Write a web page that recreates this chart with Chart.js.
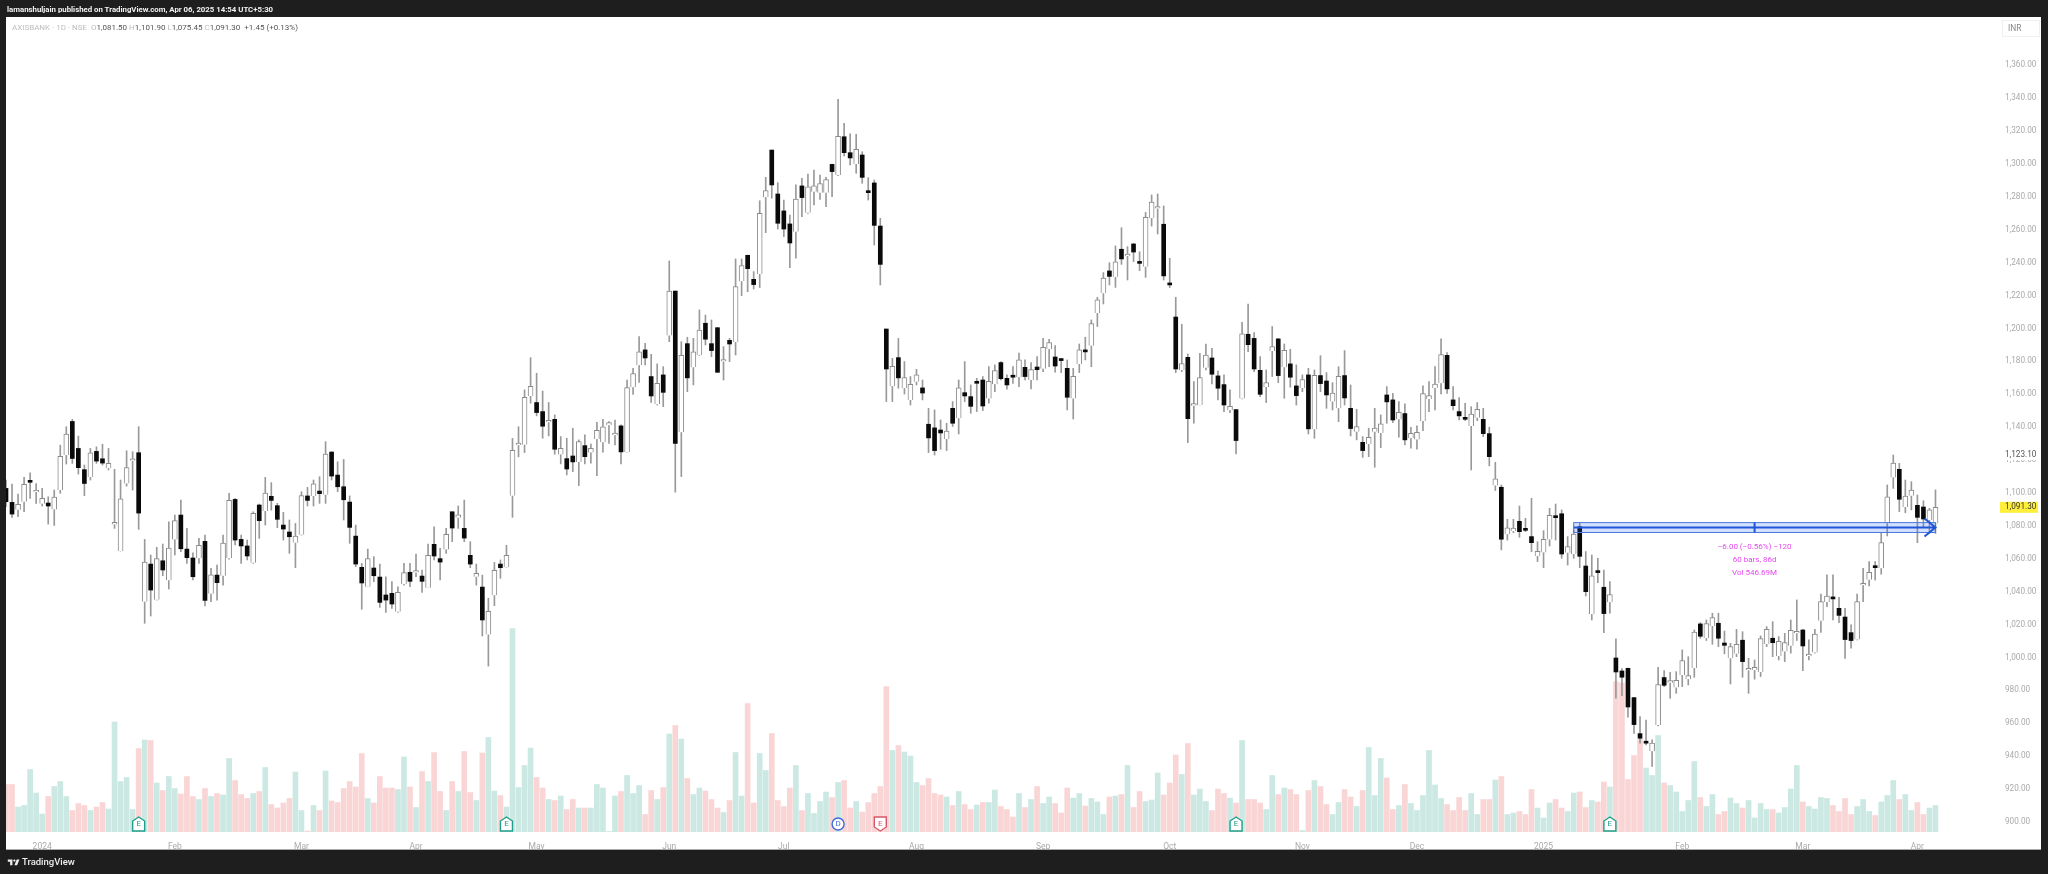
<!DOCTYPE html>
<html><head><meta charset="utf-8">
<script src="https://cdn.jsdelivr.net/npm/chart.js@4/dist/chart.umd.min.js"></script>
<style>
html,body{margin:0;padding:0;width:2048px;height:874px;background:#1e1e1e;overflow:hidden}
#panel{position:absolute;left:6px;top:17px;width:2035px;height:833px;background:#fff;border-bottom:1px solid #aaa;box-sizing:border-box}
canvas{position:absolute;left:0;top:0}
.t{position:absolute;white-space:nowrap;font-family:Roboto,sans-serif}
#head{left:7px;top:3px;color:#f2f2f2;font-size:7.8px;font-weight:700;line-height:13px}
#legend{left:12px;top:21px;font-size:8px;line-height:13px;color:#555}
#legend i{font-style:normal;color:#bdbdbd}
#inr{left:2002px;top:20px;width:38px;height:17px;box-sizing:border-box;border:1px solid #f0f0f0;color:#888;font-size:8.4px;line-height:15px;padding-left:5px}
#foot{left:22px;top:855px;color:#eee;font-size:9.5px;font-weight:500;line-height:14px}
#logo{position:absolute;left:7px;top:857px}
</style></head><body>
<div id="panel"></div>
<canvas id="c" width="2048" height="874"></canvas>
<div class="t" id="head">lamanshuljain published on TradingView.com, Apr 06, 2025 14:54 UTC+5:30</div>
<div class="t" id="legend"><i>AXISBANK · 1D · NSE &nbsp;O</i>1,081.50 <i>H</i>1,101.90 <i>L</i>1,075.45 <i>C</i>1,091.30 &nbsp;+1.45 (+0.13%)</div>
<div class="t" id="inr">INR</div>
<svg id="logo" width="14" height="11" viewBox="0 6 36 16"><path fill="#eee" d="M14 6H2v6h6v9h6V6Zm12 15h-7l6-15h7l-6 15Zm-7-9a3 3 0 1 0 0-6 3 3 0 0 0 0 6Z"/></svg>
<div class="t" id="foot">TradingView</div>
<script>
const opens=[1102.8,1094.3,1089.8,1094.7,1106.5,1100.6,1093.5,1093.9,1090,1101.8,
1123.1,1143.5,1127.1,1114.2,1109.7,1125.3,1120.8,1115,1080.9,1064.7,
1105.8,1119.6,1124.5,1033.9,1056.8,1035.1,1058.8,1046.9,1071.8,1086.6,
1065.9,1060.5,1060.3,1070.6,1038.8,1050.1,1049.7,1060.3,1096.1,1071.8,
1067.8,1057.6,1092.7,1089,1098,1092.3,1080.5,1076.3,1069.8,1074.6,
1098.2,1098.2,1101.2,1099,1124.9,1110.9,1103.8,1094.5,1073.8,1054.8,
1043,1054.4,1048.9,1038,1039,1027.8,1044.5,1051.8,1051.6,1049.5,
1042.4,1068.8,1060.1,1065.7,1088.6,1085,1078.5,1062.1,1049.1,1042.8,
1013.9,1037.8,1056.8,1054.8,1098.4,1129.1,1129.4,1159,1155,1149.5,
1143,1144.8,1123.4,1120.9,1122.5,1118.9,1128.8,1124.6,1132.9,1130.8,
1141.2,1135.1,1140.8,1125,1164.3,1177.7,1187,1170.8,1153.9,1171.8,
1195.7,1222.8,1136.9,1190.8,1176.4,1183.7,1203.2,1190.8,1200.5,1179.9,
1192.8,1191.8,1228.7,1244.5,1229.9,1233.2,1279.8,1308.5,1281.8,1271.5,
1263.6,1258.9,1286.7,1270.4,1283.2,1282.6,1282.6,1299.8,1293.3,1316.6,
1306.9,1300,1305.5,1283,1288.5,1262.3,1199.7,1164.9,1182.3,1163.7,
1156.6,1167.7,1163.9,1141.8,1139.6,1138.3,1132.9,1151.5,1145.4,1161,
1158.6,1166.7,1168.7,1157.4,1166.1,1179.3,1169.7,1171.2,1170.4,1176.4,
1168.7,1176.6,1175.6,1187.6,1182.7,1181.7,1175.8,1157.4,1178.5,1187,
1189.6,1209.5,1221.4,1235,1231.3,1248.2,1244.1,1251.4,1240.7,1237.6,
1267.2,1272.9,1263.4,1227.7,1207,1174.8,1182.5,1153.1,1153.5,1176.2,
1182.1,1171.2,1165.9,1150.5,1150.7,1157.4,1196.5,1194,1174.6,1164.5,
1186.4,1193.7,1176.4,1178.5,1165.1,1163.9,1171.8,1138.8,1171.4,1168.1,
1155.6,1151.5,1171.4,1151.5,1137.3,1130.8,1129.8,1137.3,1136.5,1159.6,
1156.6,1144.8,1148.3,1133.3,1132.5,1143.8,1157.2,1163.9,1166.7,1183.7,
1156.6,1149.5,1145.2,1140.8,1145.8,1144.8,1136.1,1104.5,1103.5,1074.9,
1076.9,1082.8,1077.7,1073.5,1061.7,1063.9,1071.8,1085.6,1087.4,1063.7,
1062.9,1079.5,1055.6,1026.3,1052.4,1042.7,1033.6,999.7,991.8,993.4,
975.6,953.7,947.9,943,959,987.8,984.7,981.7,989.4,986.8,
993.6,1020.4,1011.7,1019.2,1020.8,1008.8,999.5,1002.3,1010.5,992.2,
992.4,991.2,1008.2,1011.7,1000.9,1003.6,1007.2,1014.7,1016.7,1000.9,
1003,1022.4,1033.7,1036,1029.9,1024.6,1015.1,1010.9,1043.9,1047.3,
1055.6,1054.2,1081.6,1109.5,1114.4,1091.5,1098.4,1092.5,1091.5,1083.6,
1081.5];
const closes=[1094.7,1087.2,1093.1,1105.2,1106.5,1101,1096.7,1092.1,1097.5,1122.3,
1135.8,1121,1115.4,1105.8,1124.5,1119.4,1118.2,1118,1081.1,1096.5,
1115.4,1119.8,1087.8,1058,1041,1060.1,1053.2,1066.5,1083.2,1066.1,
1060.7,1049.1,1068.2,1034.7,1050.3,1045.5,1069.6,1095.5,1071.4,1067.8,
1061.7,1087.6,1083.2,1100,1095.5,1084,1078.1,1073.4,1073.8,1098.4,
1095.5,1105.6,1099.6,1123.7,1110.3,1103.8,1095.9,1079.1,1056.8,1045.3,
1060.1,1049.7,1033.5,1034.9,1032.5,1039.6,1051.6,1046.3,1052.2,1046.3,
1062.1,1061.7,1058,1074.9,1078.7,1086.8,1072.6,1056.8,1051.1,1022.8,
1028,1053,1054.6,1062.1,1125.9,1129.6,1158.2,1164.9,1148.9,1140.6,
1143.2,1126.6,1127.2,1114.6,1118.9,1131.3,1122.1,1127.2,1138.1,1140.2,
1142.8,1136.5,1125,1164.1,1172.6,1185.8,1182.1,1159,1166.7,1161.2,
1222.8,1130.2,1183.7,1170,1185.8,1199.1,1193.5,1186.6,1173.4,1180.3,
1190.6,1225.5,1238.2,1236.4,1226.7,1270,1283.8,1287.3,1264,1260.5,
1252,1278.7,1279.6,1286.2,1286.7,1288.1,1290.5,1295.4,1316.8,1306.9,
1303.7,1308.9,1291.9,1282.6,1262.7,1239,1175.4,1177,1170,1170.2,
1166.1,1171.8,1160.8,1133.5,1125.8,1136.5,1137.7,1142.4,1163.9,1159,
1152.7,1166.7,1152.9,1167.9,1174.4,1169.5,1165.7,1170.4,1180.9,1170.8,
1175,1175,1188.6,1191.4,1177.2,1180.5,1158.2,1171,1187,1185.8,
1203,1217.4,1230.7,1231.7,1240.5,1242.3,1244.5,1246.5,1239.6,1267.6,
1276.9,1273.3,1232,1226.5,1175.4,1178.7,1145.2,1153.5,1170.2,1183.9,
1172.2,1163.7,1153.5,1152.7,1131.9,1196.7,1190.2,1175.4,1160,1167.1,
1189,1171.4,1186.8,1170.4,1159.2,1169,1139,1171.6,1166.5,1159.6,
1160.8,1171,1157.8,1139.2,1140.4,1125.8,1133.9,1139.4,1142,1155.4,
1144.4,1149.1,1132.3,1136.3,1136.9,1160.4,1159.2,1166.3,1184.1,1163.3,
1153.1,1146.9,1144.8,1148,1150.9,1136.1,1122.1,1108.6,1071.9,1078.9,
1078.7,1076.5,1077.3,1069.8,1064.6,1071.8,1086.4,1085,1062.9,1067.4,
1075.1,1061.5,1040,1049.6,1051.6,1026.7,1038.2,991.2,988,969.9,
959.2,950.9,947.9,947.9,983.5,983.1,985.1,986.1,998.1,989,
1015.5,1012.9,1020.6,1024.2,1011.7,1007.4,1006.6,1008,997.5,992.8,
994,1011.5,1017.1,1009,1009.8,1009,1016.5,1015.1,1007,1001.5,
1014.3,1034,1037.4,1035.6,1025.6,1010.9,1010.3,1034,1044.7,1051.8,
1054.6,1069.8,1097.6,1118.2,1096.2,1098.2,1101.8,1085.2,1084.2,1089.7,
1091.3];
const highs=[1107.9,1105.4,1099.4,1109.5,1112.3,1105.8,1102.8,1097.7,1101.8,1129.1,
1140.3,1144.8,1134.6,1117,1127.1,1128.1,1129.6,1127.1,1114.4,1107.9,
1125.7,1125.1,1140.3,1071.8,1062.3,1067,1069,1082.5,1086.6,1095.7,
1078.5,1063.7,1072.4,1074.4,1054.2,1056.2,1074.4,1099.8,1096.7,1074.4,
1071.4,1088.6,1093.3,1109.5,1106.3,1093.7,1088.2,1083.6,1081.5,1100.8,
1103.4,1107.9,1109.9,1131.2,1125.1,1119,1120.4,1098.2,1080.5,1057.2,
1065.9,1061.3,1056.8,1049.1,1046.1,1043,1057.2,1057.2,1062.9,1053.2,
1069,1079.5,1066.3,1078.5,1088.6,1092.1,1095.7,1070.4,1056.8,1050.1,
1036,1057.8,1059.3,1068.2,1133.2,1140.3,1162.7,1182.3,1172.8,1162,
1155,1147.5,1134.3,1133.3,1139.4,1132.3,1135.3,1129.8,1143,1144.8,
1143.4,1144.4,1141.4,1168.7,1175.8,1195.1,1191,1184.3,1178.5,1176.8,
1241.1,1222.8,1192,1194.7,1194,1211.3,1208.2,1205.2,1200.7,1189,
1194,1242.3,1242.3,1244.7,1234.6,1277.7,1291.9,1308.5,1288.7,1278.1,
1269,1287.3,1291.3,1293.9,1296.4,1293.3,1291.9,1300,1339.3,1324.7,
1318.3,1318.1,1307.5,1291.7,1290.3,1267,1199.7,1181.9,1194,1179.9,
1170.8,1175.2,1168.7,1151.5,1150.5,1144.4,1142.4,1155.6,1168.7,1179.9,
1165.7,1169.7,1170.8,1176.8,1177.9,1179.9,1171.8,1176.8,1185,1180.9,
1179.3,1182.9,1194,1193.5,1189.6,1181.9,1180.9,1175.8,1190.6,1194.7,
1205.2,1219,1234,1240,1250.2,1261.3,1249.8,1251.8,1246.7,1270.6,
1281.2,1281.8,1274.5,1242.7,1219,1202.6,1184.5,1167.7,1184.9,1190.6,
1188,1174.2,1171.8,1162.7,1150.9,1203.8,1214.9,1197.5,1182.9,1174.8,
1201.2,1193.9,1190.6,1187.4,1177.9,1171.8,1175.8,1174.8,1183.5,1173.2,
1167.1,1176.8,1186.6,1165.7,1150.9,1134.3,1139.4,1151.5,1147.5,1164.7,
1160.6,1155.6,1154.2,1140,1140.8,1165.1,1167.7,1176.8,1193.7,1185.4,
1164.7,1158,1154.6,1152.5,1155,1151.5,1140,1118.7,1104.9,1084,
1084,1092.1,1084.6,1096.8,1070.4,1077.1,1090.7,1093.3,1089.7,1073.5,
1077.5,1081.6,1064.4,1062.3,1060.3,1053.2,1046.1,1011.3,993.2,993.6,
975.8,964.1,962,949.9,994,992,991,991.4,1004.6,1000.5,
1016.7,1021.2,1022.8,1026.9,1026.9,1016.1,1008.6,1017.1,1015.7,999.5,
998.5,1013.1,1018.8,1021.8,1012.7,1014.7,1022.8,1035,1017.1,1010.7,
1017.1,1038.6,1050.2,1050.2,1036.6,1029.9,1019.8,1038.6,1054.2,1058.3,
1058.3,1075.5,1104.9,1123.1,1118,1107.9,1106.9,1098.8,1095.3,1090.7,
1101.9];
const lows=[1091.7,1085.2,1085.6,1088.6,1096.7,1093.7,1092.1,1081.1,1080.3,1099.8,
1117.6,1118,1111.5,1098.4,1107.9,1118,1117,1114,1078.5,1064.7,
1104.2,1101.8,1077.9,1020.8,1025.2,1034.9,1049.7,1041.6,1062.3,1064.3,
1057.2,1047.1,1057.2,1031.3,1033.9,1034.9,1044,1059.7,1068.4,1057.2,
1059.3,1057.2,1072.4,1080.5,1089.6,1078.9,1071.4,1063.3,1054.6,1074.4,
1092.1,1092.1,1093.7,1093.7,1107.9,1100.8,1083.6,1069.4,1055.2,1029.3,
1043,1046.1,1030.5,1027.4,1029.9,1027.4,1043.9,1043,1049.1,1039.6,
1042.4,1059.3,1047.1,1063.3,1070.4,1078.5,1070.4,1054.6,1044,1013.1,
994.8,1031.5,1048.1,1054.8,1085.2,1122,1124.6,1154.6,1146.9,1133.3,
1134.7,1123.6,1117.7,1111,1113,1104.5,1117.7,1118.1,1110.6,1124.8,
1130.2,1129.2,1117.7,1124.8,1160,1167.3,1177.9,1155,1153.5,1152.5,
1192,1100.5,1110,1161.6,1165.7,1183.5,1190,1182.9,1173.2,1168.7,
1179.9,1183.9,1220,1222.4,1224,1224.9,1258.3,1279.2,1260.5,1255.9,
1237,1242.7,1268,1270,1275.1,1278.5,1274.1,1280.2,1292.9,1304.9,
1299.4,1294.4,1288.3,1278.1,1250.8,1226.5,1155.6,1155.6,1163.7,1160.2,
1153.5,1165.7,1156.6,1124.6,1123.1,1126.6,1125.8,1140.4,1135.9,1155.6,
1148.5,1149.5,1150.1,1154.6,1161.6,1168.7,1163.1,1166.7,1164.7,1168.7,
1163.3,1168.7,1173.8,1176.8,1173.4,1173.2,1150.5,1145,1173.2,1180.9,
1176.8,1201.2,1214.9,1226.5,1225,1239,1229.5,1240.7,1235.2,1231.1,
1262.3,1257.5,1229.5,1224.9,1173.2,1173.8,1130.6,1142.4,1153.5,1174.8,
1166.3,1156.6,1149.5,1148.9,1123.8,1157.2,1186,1173.8,1158.6,1155,
1170.8,1167.1,1157.6,1164.3,1153.5,1161.6,1135.9,1133.3,1161.6,1151.5,
1150.5,1143.4,1153.5,1134.7,1132.3,1121.7,1122.1,1115.7,1127.6,1142.4,
1142.8,1133.9,1129.2,1127.2,1126.6,1137.9,1149.5,1150.5,1160.2,1160.6,
1150.5,1144.4,1144,1114,1144,1134.3,1116.5,1101.5,1065.4,1071.4,
1075.9,1073.1,1076.5,1064.3,1058.3,1054.6,1067.8,1071.4,1060.3,1056.2,
1060.3,1054.6,1037.4,1022.8,1045.5,1015.1,1026.9,975.2,976.8,963.7,
953.9,947.9,946.8,933.7,958.4,982.3,975.2,978.2,982.3,983.3,
988,1011.7,1010.3,1008,1006.6,1002.2,983.9,1000.5,988,978.2,
986.8,988.4,1006.6,1000.5,998.5,997.5,1002.6,1010.3,992,998.5,
1002.6,1015.3,1030.9,1022.8,1021.2,999.5,1005.6,1010.7,1034,1043.5,
1047.1,1050.6,1073.9,1102.8,1088.7,1088,1089.7,1069.8,1079.5,1075.5,
1075.45];
const volumes=[9.5,9.5,5,5.3,12.5,7.8,3.6,7.1,9.1,10.1,
7.1,4.3,5.7,5.3,4.3,5,5.9,4.6,22,10.1,
10.9,4.5,16.7,18.4,18.3,9.8,8.3,11.1,8.7,7.6,
11.1,7.1,6.5,8.7,7.1,7.7,7.4,14.7,10.3,7.5,
6.7,7.7,8.1,12.9,5.5,4.8,5.8,6.7,12,4.3,
.2,5.3,4.3,12.2,6.2,5.9,8.7,10.1,9,15.7,
6.7,5.8,11.1,8.8,8.8,8.5,15,9,4.9,12.1,
10.1,15.9,8.1,4.3,10.1,8.1,16.1,7.9,6.3,15.8,
18.9,8.2,7.3,5,40.7,8.9,13.3,16.8,10.9,8.8,
6.5,6.3,7.2,4.5,6.5,4.8,4.8,4.8,9.5,8.8,
.1,7.2,8.1,11.3,7.7,9.3,3.5,8.3,6.5,8.9,
19.6,21.3,18.6,10.7,7.5,8.8,8.2,6.5,4.8,3.9,
6.3,15.9,7.2,25.7,5.8,15.7,12.3,19.7,6.3,5.1,
8.8,13.3,4.3,7.7,3.7,6.1,8,6.9,9.9,10.3,
4.8,6.1,4,5.9,7.7,9.1,29.1,16.3,17.3,16,
15.2,9.9,9.3,10.7,7.7,7.4,7,5.3,8.1,5.5,
4.5,5.4,5.9,5.9,8.4,5.1,4.5,3,7.7,4.9,
6.5,9.1,5.7,7,5.7,3.8,8.8,6.8,7.7,5.2,
6.7,6,3.5,7,7.2,7.5,13.3,4.9,8.1,6.1,
6.4,11.8,7.4,9.8,15.4,11.5,17.7,7.4,8.6,6.1,
4.3,8.6,7.7,6.8,5.8,18.3,6.5,6.5,5.8,4.5,
11.3,7.5,8.8,8.5,7.5,.3,8.3,10.3,9.1,5.5,
3.5,5.9,8.5,7,5.1,8.3,16.9,7.3,14.7,10.8,
4.5,5.3,9.5,5.7,4.3,7.3,16.3,9.4,6.7,5.5,
4.3,6.9,4.3,7.7,3.5,6.5,6.5,10.4,11.1,3.5,
3.8,4.1,3.5,8.5,4.8,2.8,5.8,6.5,4.8,4.1,
7.8,8,4.9,6.3,6,10,9,30.1,29.8,10.5,
15.3,18.5,12.8,11.3,19.3,9.8,9.3,8,4.1,6.3,
14.1,6.9,5.1,7.5,3.5,4.1,6.8,5.7,4.8,6.3,
2.8,5.7,4.5,4.5,3.8,4.9,8.6,13.3,6,5.1,
4.6,6.9,6.7,5.3,4.1,6.7,3.5,5.1,6.5,4.1,
3.3,6,7.3,10.3,6.5,7.5,4.3,5.9,3.5,4.8,
5.3];
const monthBars=[6,28,49,68,88,110,129,151,172,193,215,234,255,278,298,317];
const monthLabels=["2024","Feb","Mar","Apr","May","Jun","Jul","Aug","Sep","Oct","Nov","Dec","2025","Feb","Mar","Apr"];
const priceTicks=[900,920,940,960,980,1000,1020,1040,1060,1080,1100,1120,1140,1160,1180,1200,1220,1240,1260,1280,1300,1320,1340,1360];
const eventBars=[22,83,138,145,204,266];
const eventLabels=["E","E","D","E","E","E"];
const eventKinds=["up","up","circle","down","up","up"];
const measureStart=260, measureEnd=320, measureFrom=1082, measureTo=1076, measureLine=1079;
const measureTexts=["−6.00 (−0.56%) −120","60 bars, 86d","Vol 546.69M"];
const lastPrice=1091.30, highPrice=1123.10;

const idx=opens.map((_,i)=>i);
const isUp=i=>closes[i]>opens[i];
const volColor=i=>closes[i]>=opens[i]?'#cbe8e3':'#f9d6d5';
const fmt=v=>v.toLocaleString('en-US',{minimumFractionDigits:2,maximumFractionDigits:2});

const overlay={id:'overlay',afterDatasetsDraw(ch){
  const {ctx,scales:{x,y,v}}=ch,base=v.getPixelForValue(0);
  ctx.save();
  const x0=x.getPixelForValue(measureStart),x1=x.getPixelForValue(measureEnd),
        y0=y.getPixelForValue(measureFrom),y1=y.getPixelForValue(measureTo),ym=y.getPixelForValue(measureLine);
  ctx.fillStyle='rgba(41,98,255,.2)';ctx.fillRect(x0,y0,x1-x0,y1-y0);
  ctx.strokeStyle='#4a78dc';ctx.lineWidth=1;ctx.strokeRect(x0,y0,x1-x0,y1-y0);
  ctx.strokeStyle='#1f55d6';ctx.lineWidth=2;ctx.beginPath();ctx.moveTo(x0,ym);ctx.lineTo(x1,ym);
  ctx.moveTo(x1-11,ym-9);ctx.lineTo(x1,ym);ctx.lineTo(x1-11,ym+9);
  const xm=x.getPixelForValue((measureStart+measureEnd)/2);
  ctx.moveTo(xm,y0);ctx.lineTo(xm,y1);ctx.stroke();
  ctx.fillStyle='#e448f0';ctx.font='8px Roboto';ctx.textAlign='center';ctx.textBaseline='middle';
  measureTexts.forEach((t,i)=>ctx.fillText(t,xm,y1+15+i*13));
  eventBars.forEach((b,i)=>{
    const px=x.getPixelForValue(b),k=eventKinds[i],top=base-15,bot=base-1;
    const col=k==='up'?'#1f9e89':k==='down'?'#d9566a':'#3d6ad6';
    ctx.strokeStyle=col;ctx.lineWidth=1.4;ctx.fillStyle='#fff';ctx.beginPath();
    if(k==='circle'){ctx.arc(px,base-8,6,0,Math.PI*2);}
    else if(k==='up'){ctx.moveTo(px,top);ctx.lineTo(px+6,top+4);ctx.lineTo(px+6,bot);ctx.lineTo(px-6,bot);ctx.lineTo(px-6,top+4);ctx.closePath();}
    else{ctx.moveTo(px-6,top);ctx.lineTo(px+6,top);ctx.lineTo(px+6,bot-4);ctx.lineTo(px,bot);ctx.lineTo(px-6,bot-4);ctx.closePath();}
    ctx.fill();ctx.stroke();
    ctx.fillStyle=col;ctx.font='8px Roboto';ctx.fillText(eventLabels[i],px,base-8);
  });
  const ax=y.left+5,yl=y.getPixelForValue(lastPrice),yh=y.getPixelForValue(highPrice);
  ctx.fillStyle='#ffee3a';ctx.fillRect(y.left,yl-5.5,38,11);
  ctx.textAlign='left';ctx.font='8.2px Roboto';
  ctx.fillStyle='#fff';ctx.fillRect(y.left+2,yh-5,36,10);
  ctx.fillStyle='#333';ctx.fillText(fmt(lastPrice),ax,yl);
  ctx.fillStyle='#555';ctx.fillText(fmt(highPrice),ax,yh);
  ctx.restore();
}};

new Chart(document.getElementById('c'),{
  type:'bar',
  plugins:[overlay],
  data:{datasets:[
    {label:'Volume',yAxisID:'v',order:4,barThickness:5,data:idx.map(i=>({x:i,y:volumes[i]})),backgroundColor:idx.map(volColor)},
    {label:'Wick',yAxisID:'y',order:3,barThickness:1,data:idx.map(i=>({x:i,y:[lows[i],highs[i]]})),backgroundColor:'#999999'},
    {label:'Up',yAxisID:'y',order:2,barThickness:5,minBarLength:2,data:idx.filter(isUp).map(i=>({x:i,y:[opens[i],closes[i]]})),backgroundColor:'#ffffff',borderColor:'#8a8a8a',borderWidth:1},
    {label:'Down',yAxisID:'y',order:1,barThickness:4,minBarLength:2,data:idx.filter(i=>!isUp(i)).map(i=>({x:i,y:[closes[i],opens[i]]})),backgroundColor:'#0a0a0a'}
  ]},
  options:{
    responsive:false,animation:false,devicePixelRatio:1,
    layout:{padding:{left:6,right:7,top:17,bottom:24}},
    datasets:{bar:{grouped:false}},
    plugins:{legend:{display:false},tooltip:{enabled:false},title:{display:false}},
    scales:{
      x:{type:'linear',min:0,max:330.7,offset:false,grid:{display:false},border:{display:false},
        afterBuildTicks:a=>{a.ticks=monthBars.map(value=>({value}));},
        afterFit:a=>{a.height=18;},
        ticks:{autoSkip:false,maxRotation:0,padding:2,color:'#aaaaaa',font:{family:'Roboto',size:8.5},
          callback:v=>monthLabels[monthBars.indexOf(v)]}},
      y:{type:'linear',position:'right',min:893.9,max:1389.4,grid:{display:false,drawTicks:false},border:{display:false},
        afterBuildTicks:a=>{a.ticks=priceTicks.map(value=>({value}));},
        afterFit:a=>{a.width=41;},
        ticks:{autoSkip:false,crossAlign:'near',padding:5,color:'#aaaaaa',font:{family:'Roboto',size:8.2},callback:fmt}},
      v:{type:'linear',display:false,min:0,max:163}
    }
  }
});
</script>
</body></html>
